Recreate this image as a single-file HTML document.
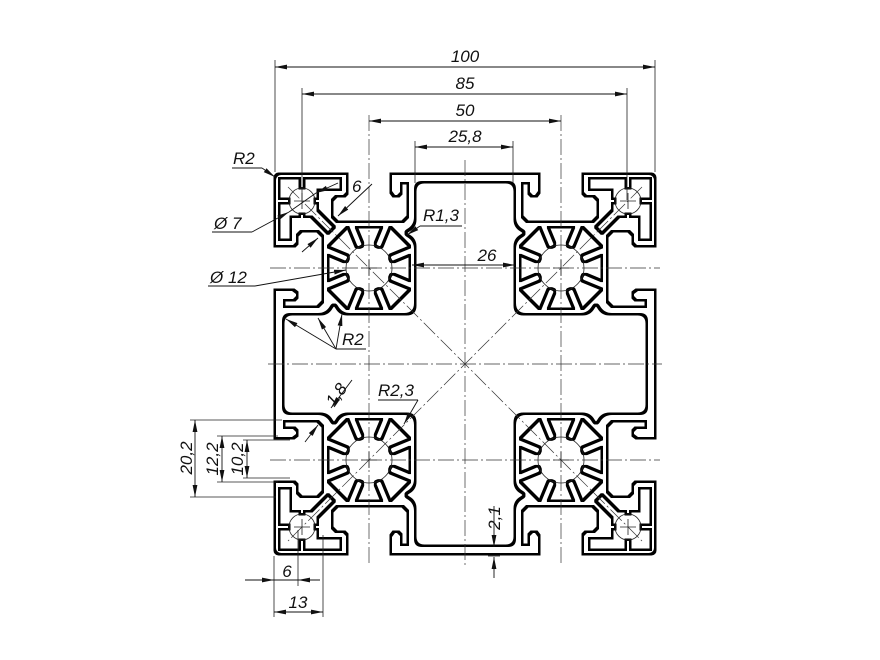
<!DOCTYPE html>
<html><head><meta charset="utf-8"><style>
html,body{margin:0;padding:0;background:#fff;}
svg{display:block;}
text{font-family:"Liberation Sans",sans-serif;font-style:italic;font-size:17px;fill:#111;}
</style></head><body>
<svg width="880" height="660" viewBox="0 0 880 660" xmlns="http://www.w3.org/2000/svg">
<defs>
<filter id="ol" filterUnits="userSpaceOnUse" x="0" y="0" width="880" height="660" color-interpolation-filters="sRGB">
<feColorMatrix in="SourceGraphic" type="matrix" values="0 0 0 0 0  0 0 0 0 0  0 0 0 0 0  -1 0 0 0 1" result="a"/>
<feMorphology in="a" operator="dilate" radius="1.4" result="d"/>
<feMorphology in="a" operator="erode" radius="1.1" result="e"/>
<feComposite in="d" in2="e" operator="out"/>
</filter>
<clipPath id="sq"><path d="M -22.5,-42 L 22.5,-42 L 42,-22.5 L 42,22.5 L 22.5,42 L -22.5,42 L -42,22.5 L -42,-22.5 Z"/></clipPath>
<marker id="ar" viewBox="0 0 12 6" refX="12" refY="3" markerWidth="12" markerHeight="6" markerUnits="userSpaceOnUse" orient="auto-start-reverse"><path d="M0,0.6 L12,3 L0,5.4 Z" fill="#111"/></marker>
<g id="pc">
<path fill="#fff" d="M -200,-118 L -171,-118 L -168,-121 L -168,-129 L -164,-133 L -147,-133 L -142,-128 L -142,-62 L -147,-57 L -200,-57 Z"/>
<path fill="#000" d="M -190,-74 L -172,-74 L -168,-71 L -168,-67 L -171,-64 L -181,-64 L -181,-55 L -190,-55 Z"/>
<path fill="#fff" d="M -146,-46 L -146,-50 Q -138,-50 -134,-57 Q -131,-62 -128,-57 Q -124,-50 -116,-50 L -116,-46 Z"/>
</g>
<g id="q">
<path fill="#fff" d="M -186,-186 L -124,-186 L -124,-174 L -147,-174 L -147,-154 L -130,-137 L -137,-130 L -154,-147 L -174,-147 L -174,-124 L -186,-124 Z"/>
<rect fill="#000" x="-165" y="-188" width="4" height="12"/>
<rect fill="#000" x="-188" y="-165" width="12" height="4"/>
<rect fill="#000" x="-150" y="-165" width="5" height="4"/>
<rect fill="#000" x="-165" y="-150" width="4" height="5"/>
<g transform="translate(-96,-96)">
<path fill="#fff" d="M -22,-41 L 22,-41 L 41,-22 L 41,22 L 22,41 L -22,41 L -41,22 L -41,-22 Z"/>
<g clip-path="url(#sq)" fill="#000">
<rect x="23" y="-3.5" width="30" height="7" rx="2.5" transform="rotate(22.5)"/>
<rect x="23" y="-3.5" width="30" height="7" rx="2.5" transform="rotate(67.5)"/>
<rect x="23" y="-3.5" width="30" height="7" rx="2.5" transform="rotate(112.5)"/>
<rect x="23" y="-3.5" width="30" height="7" rx="2.5" transform="rotate(157.5)"/>
<rect x="23" y="-3.5" width="30" height="7" rx="2.5" transform="rotate(202.5)"/>
<rect x="23" y="-3.5" width="30" height="7" rx="2.5" transform="rotate(247.5)"/>
<rect x="23" y="-3.5" width="30" height="7" rx="2.5" transform="rotate(292.5)"/>
<rect x="23" y="-3.5" width="30" height="7" rx="2.5" transform="rotate(337.5)"/>
</g>
</g>
</g>
</defs>

<rect width="880" height="660" fill="#fff"/>

<g filter="url(#ol)">
<rect width="880" height="660" fill="#fff"/>
<g transform="translate(465,364)">
<rect x="-190" y="-190" width="380" height="380" rx="5" fill="#000"/>
<path fill="#fff" d="M -174,-50 L -60,-50 Q -50,-50 -50,-60 L -50,-174 Q -50,-182 -42,-182 L 42,-182 Q 50,-182 50,-174 L 50,-60 Q 50,-50 60,-50 L 174,-50 Q 182,-50 182,-42 L 182,42 Q 182,50 174,50 L 60,50 Q 50,50 50,60 L 50,174 Q 50,182 42,182 L -42,182 Q -50,182 -50,174 L -50,60 Q -50,50 -60,50 L -174,50 Q -182,50 -182,42 L -182,-42 Q -182,-50 -174,-50 Z"/>
<use href="#pc" transform="matrix(1,0,0,1,0,0)"/>
<use href="#pc" transform="matrix(-1,0,0,1,0,0)"/>
<use href="#pc" transform="matrix(1,0,0,-1,0,0)"/>
<use href="#pc" transform="matrix(-1,0,0,-1,0,0)"/>
<use href="#pc" transform="matrix(0,1,1,0,0,0)"/>
<use href="#pc" transform="matrix(0,-1,1,0,0,0)"/>
<use href="#pc" transform="matrix(0,1,-1,0,0,0)"/>
<use href="#pc" transform="matrix(0,-1,-1,0,0,0)"/>
<use href="#q" transform="scale(1,1)"/>
<use href="#q" transform="scale(-1,1)"/>
<use href="#q" transform="scale(1,-1)"/>
<use href="#q" transform="scale(-1,-1)"/>
</g>
</g>

<g fill="none" stroke="#222" stroke-width="0.8">
<circle cx="369" cy="268" r="23"/><circle cx="561" cy="268" r="23"/>
<circle cx="369" cy="460" r="23"/><circle cx="561" cy="460" r="23"/>
<circle cx="302" cy="201" r="13"/><circle cx="628" cy="201" r="13"/>
<circle cx="302" cy="527" r="13"/><circle cx="628" cy="527" r="13"/>
<path d="M361,268h16M369,260v16M553,268h16M561,260v16M361,460h16M369,452v16M553,460h16M561,452v16M294,201h16M302,193v16M620,201h16M628,193v16M294,527h16M302,519v16M620,527h16M628,519v16"/>
</g>
<g fill="none" stroke="#333" stroke-width="0.7" stroke-dasharray="16 3 2 3">
<path d="M268,364H662M465,160V568M270,268H660M270,460H660M369,115V565M561,115V565"/>
<path d="M288,187L642,541M642,187L288,541"/>
</g>

<g fill="none" stroke="#222" stroke-width="0.8">
<path d="M275,60V172M655,60V172M302,88V200M627,88V200M415,141V183M513,141V183"/>
<path d="M190,420H282M190,497H276M217,436H278M217,482H278M243,440H290M243,478H290"/>
<path d="M274,556V617M298,530V586M323,535V617"/>
<path d="M488,556H500"/>
</g>
<g fill="none" stroke="#111" stroke-width="0.9">
<line x1="275" y1="67" x2="655" y2="67" marker-start="url(#ar)" marker-end="url(#ar)"/>
<line x1="302" y1="94" x2="627" y2="94" marker-start="url(#ar)" marker-end="url(#ar)"/>
<line x1="369" y1="121" x2="561" y2="121" marker-start="url(#ar)" marker-end="url(#ar)"/>
<line x1="415" y1="147" x2="513" y2="147" marker-start="url(#ar)" marker-end="url(#ar)"/>
<line x1="195" y1="420" x2="195" y2="497" marker-start="url(#ar)" marker-end="url(#ar)"/>
<line x1="222" y1="436" x2="222" y2="482" marker-start="url(#ar)" marker-end="url(#ar)"/>
<line x1="247" y1="440" x2="247" y2="478" marker-start="url(#ar)" marker-end="url(#ar)"/>
<line x1="245" y1="580" x2="274" y2="580" marker-end="url(#ar)"/>
<line x1="274" y1="580" x2="298" y2="580"/>
<line x1="320" y1="580" x2="298" y2="580" marker-end="url(#ar)"/>
<line x1="274" y1="612" x2="323" y2="612" marker-start="url(#ar)" marker-end="url(#ar)"/>
<line x1="494" y1="506" x2="494" y2="547" marker-end="url(#ar)"/>
<line x1="494" y1="578" x2="494" y2="557" marker-end="url(#ar)"/>
<line x1="412" y1="265" x2="515" y2="265" marker-start="url(#ar)" marker-end="url(#ar)"/>
<path d="M232,168H262"/><line x1="262" y1="168" x2="275" y2="177" marker-end="url(#ar)"/>
<path d="M212,232H252"/><line x1="252" y1="232" x2="289" y2="212" marker-end="url(#ar)"/>
<line x1="338" y1="183" x2="316" y2="193" marker-end="url(#ar)"/><line x1="289" y1="212" x2="316" y2="193"/>
<path d="M208,286H255"/><line x1="255" y1="286" x2="346" y2="270" marker-end="url(#ar)"/>
<line x1="372" y1="184" x2="338" y2="216" marker-end="url(#ar)"/>
<line x1="302" y1="252" x2="318" y2="238" marker-end="url(#ar)"/>
<path d="M420,226H462"/><line x1="420" y1="226" x2="407" y2="235" marker-end="url(#ar)"/>
<path d="M336,349H366"/>
<line x1="336" y1="349" x2="286" y2="319" marker-end="url(#ar)"/>
<line x1="336" y1="349" x2="318" y2="318" marker-end="url(#ar)"/>
<line x1="336" y1="349" x2="342" y2="314" marker-end="url(#ar)"/>
<path d="M378,400H418"/><line x1="418" y1="400" x2="404" y2="424" marker-end="url(#ar)"/>
<line x1="352" y1="380" x2="331" y2="408" marker-end="url(#ar)"/>
<line x1="305" y1="442" x2="318" y2="425" marker-end="url(#ar)"/>
</g>

<g text-anchor="middle">
<text x="465" y="62">100</text>
<text x="465" y="89">85</text>
<text x="465" y="116">50</text>
<text x="465" y="142">25,8</text>
<text x="487" y="261">26</text>
<text x="287" y="577">6</text>
<text x="298" y="608">13</text>
<text transform="translate(192,458) rotate(-90)">20,2</text>
<text transform="translate(218,459) rotate(-90)">12,2</text>
<text transform="translate(243,459) rotate(-90)">10,2</text>
<text transform="translate(500,518) rotate(-90)">2,1</text>
<text transform="translate(341,398) rotate(-55)">1,8</text>
</g>
<text x="233" y="164">R2</text>
<text x="214" y="229">Ø 7</text>
<text x="210" y="283">Ø 12</text>
<text x="352" y="192">6</text>
<text x="423" y="221">R1,3</text>
<text x="342" y="345">R2</text>
<text x="378" y="396">R2,3</text>
</svg>
</body></html>
